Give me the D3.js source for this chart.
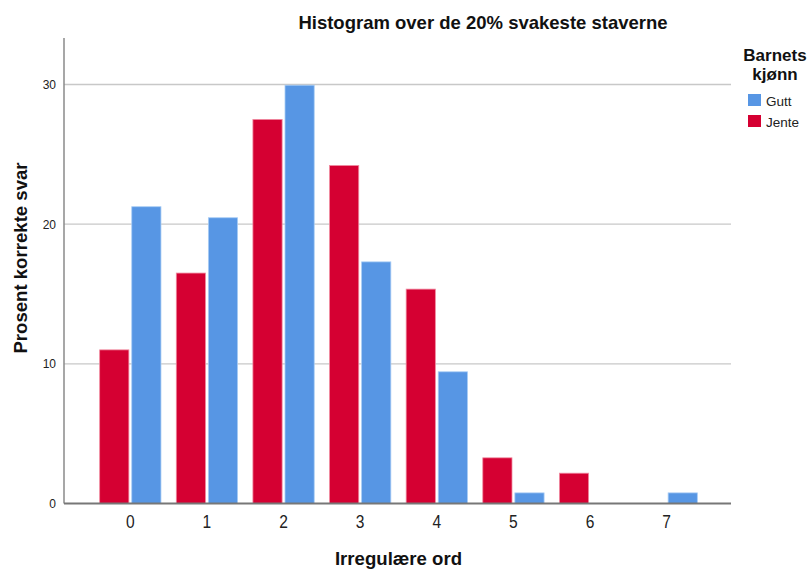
<!DOCTYPE html>
<html><head><meta charset="utf-8">
<script src="https://cdn.jsdelivr.net/npm/d3@7"></script>
<style>body{margin:0;background:#fff}svg{display:block}text{font-family:"Liberation Sans",Arial,sans-serif}</style>
</head><body><svg id="c" width="809" height="570"></svg>
<script>
const categories = ["0","1","2","3","4","5","6","7"];
const seriesNames = ["Jente","Gutt"];
const jente = [11.0, 16.5, 27.5, 24.2, 15.35, 3.27, 2.17, 0];
const gutt  = [21.25, 20.46, 29.95, 17.3, 9.43, 0.76, 0, 0.76];
const yTicks = [0, 10, 20, 30];
const legendOrder = ["Gutt","Jente"];
const colors = {Jente:"#d50032", Gutt:"#5796e4"};

const svg = d3.select("#c");
const plot = {left:64, right:731, top:38, bottom:503.5};
const x0 = d3.scaleBand().domain(categories).range([92,705]).paddingInner(0.2).paddingOuter(0.1);
const x1 = d3.scaleBand().domain(seriesNames).range([0,x0.bandwidth()]).paddingInner(0.09);
const y = d3.scaleLinear().domain([0,33.33]).range([plot.bottom, plot.top]);

// gridlines
svg.append("g").selectAll("line").data(yTicks.filter(d=>d>0)).join("line")
  .attr("x1",plot.left).attr("x2",plot.right).attr("y1",d=>y(d)).attr("y2",d=>y(d))
  .attr("stroke","#c8c8c8").attr("stroke-width",1.3);

// bars
const data = categories.map((c,i)=>({c, Jente:jente[i], Gutt:gutt[i]}));
const g = svg.append("g");
data.forEach(d=>{
  seriesNames.forEach(s=>{
    if(d[s]>0){
      g.append("rect").attr("x",x0(d.c)+x1(s)).attr("y",y(d[s]))
        .attr("width",x1.bandwidth()).attr("height",y(0)-y(d[s]))
        .attr("fill",colors[s]).attr("stroke", s==="Jente"?"#f08aa0":"#a8ccf4").attr("stroke-width",0.8);
    }
  });
});

// y axis
const ya = d3.axisLeft(y).tickValues(yTicks).tickSize(0).tickPadding(8);
const yg = svg.append("g").attr("transform",`translate(${plot.left},0)`).call(ya);
yg.select(".domain").remove();
yg.selectAll("text").attr("font-size",12).attr("fill","#222").attr("font-family","Liberation Sans, Arial, sans-serif");
svg.append("line").attr("x1",plot.left).attr("x2",plot.left).attr("y1",plot.top).attr("y2",plot.bottom)
  .attr("stroke","#8a8a8a").attr("stroke-width",1.5);

// x axis
const xa = d3.axisBottom(x0).tickSize(0).tickPadding(11.5);
const xg = svg.append("g").attr("transform",`translate(0,${plot.bottom})`).call(xa);
xg.select(".domain").remove();
xg.selectAll("text").attr("font-size",19).attr("fill","#222").attr("transform","scale(0.82,1)")
  .attr("font-family","Liberation Sans, Arial, sans-serif");
svg.append("line").attr("x1",plot.left).attr("x2",plot.right).attr("y1",plot.bottom).attr("y2",plot.bottom)
  .attr("stroke","#777").attr("stroke-width",1.8);

// titles
svg.append("text").attr("x",483).attr("y",29).attr("text-anchor","middle")
  .attr("font-size",18.5).attr("font-weight","bold").attr("fill","#111").text("Histogram over de 20% svakeste staverne");
svg.append("text").attr("x",398.5).attr("y",565).attr("text-anchor","middle")
  .attr("font-size",18.6).attr("font-weight","bold").attr("fill","#111").text("Irregulære ord");
svg.append("text").attr("transform","translate(27,258) rotate(-90)").attr("text-anchor","middle")
  .attr("font-size",18.6).attr("font-weight","bold").attr("fill","#111").text("Prosent korrekte svar");

// legend
svg.append("text").attr("x",775).attr("y",61).attr("text-anchor","middle")
  .attr("font-size",17).attr("font-weight","bold").attr("fill","#111").text("Barnets");
svg.append("text").attr("x",775).attr("y",80).attr("text-anchor","middle")
  .attr("font-size",17).attr("font-weight","bold").attr("fill","#111").text("kjønn");
legendOrder.forEach((s,i)=>{
  svg.append("rect").attr("x",748).attr("y",94+i*21).attr("width",13).attr("height",12).attr("fill",colors[s]);
  svg.append("text").attr("x",766).attr("y",106+i*21).attr("font-size",13.5).attr("fill","#222").text(s);
});
</script></body></html>
